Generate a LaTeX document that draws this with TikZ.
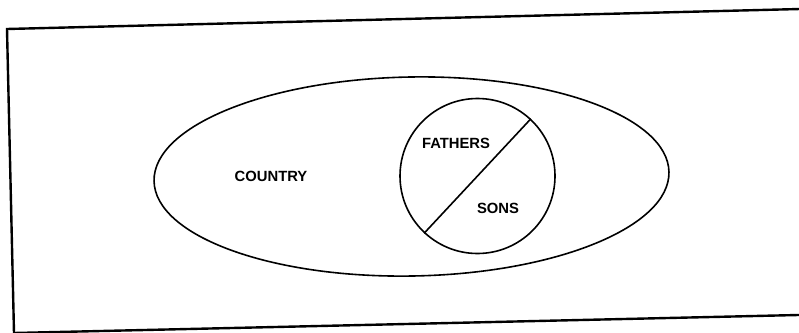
\documentclass[tikz,border=0pt]{standalone}
\usepackage{fontspec}
\setmainfont{Liberation Sans}
\usetikzlibrary{shapes.geometric}
\begin{document}
\begin{tikzpicture}[x=1pt,y=-1pt,
  frameline/.style={line width=2.4pt,line join=miter},
  shapeline/.style={line width=1.6pt},
  lbl/.style={font=\fontsize{14.8}{15}\selectfont\bfseries, inner sep=0pt}]
\useasboundingbox (0,0) rectangle (799,332);
\clip (0,0) rectangle (799,332);
% frame (slightly rotated scan)
\coordinate (tr) at (820,8.5);
\coordinate (tl) at (7,29);
\coordinate (bl) at (14,333);
\coordinate (br) at (820,314.5);
\draw[frameline] (tr) -- (tl) -- (bl) -- (br);
% country ellipse
\node[draw, shapeline, ellipse, minimum width=515pt, minimum height=199pt, inner sep=0pt, rotate=1] (country) at (411.5,176.5) {};
\node[lbl] (countrylbl) at (271,176) {COUNTRY};
% circle
\node[draw, shapeline, circle, minimum size=155pt, inner sep=0pt] (circ) at (477.5,176) {};
\draw[shapeline] (circ.47) -- (circ.227);
\node[lbl] (fathers) at (456,143) {FATHERS};
\node[lbl] (sons) at (498,208) {SONS};
\end{tikzpicture}
\end{document}
